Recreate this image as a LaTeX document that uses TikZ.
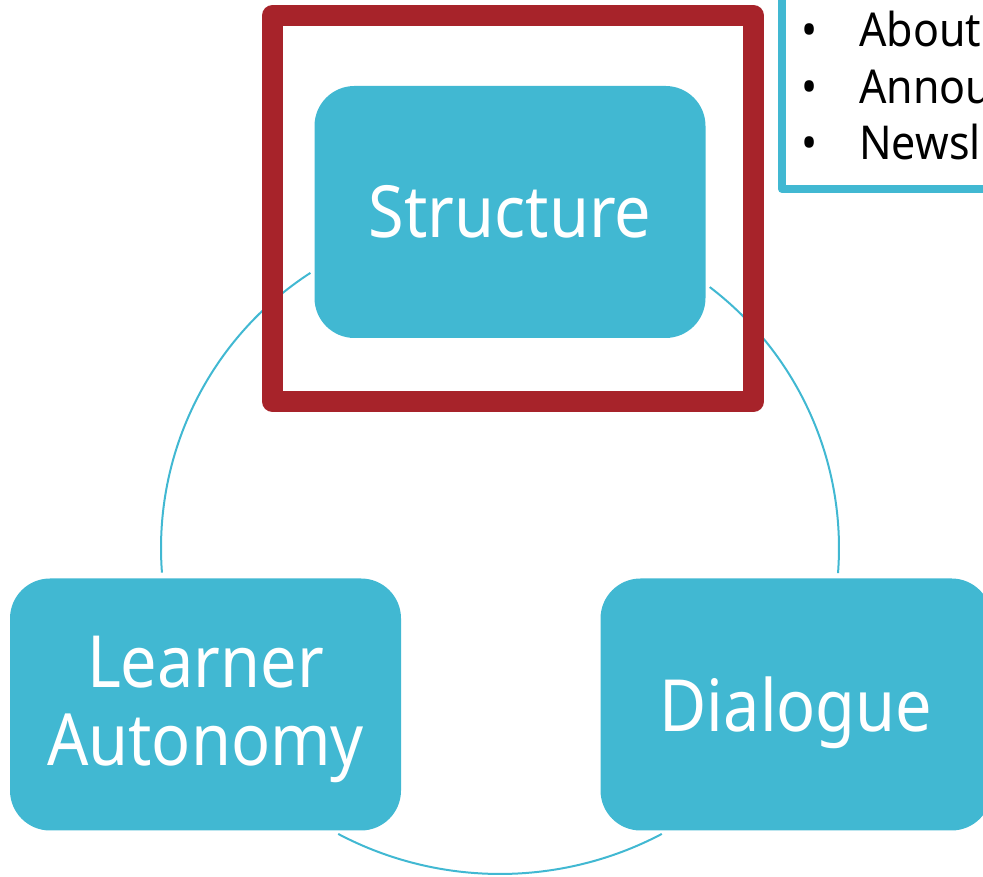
\documentclass[tikz,border=0pt]{standalone}
\usepackage{fontspec}
\setmainfont{Noto Sans}
\newfontfamily\boxfont[FakeStretch = 0.9]{Noto Sans}
\newfontfamily\notefont[FakeStretch = 0.92]{Noto Sans}
\usetikzlibrary{positioning}
\definecolor{cyclecyan}{RGB}{65, 184, 210}
\definecolor{framered}{RGB}{167, 35, 42}

\begin{document}
\begin{tikzpicture}[x = 0.75pt, y = 0.75pt,
	cyclebox/.style = {fill = cyclecyan, rounded corners = 30pt, minimum width = 293.25pt, minimum height = 189pt, inner sep = 0pt, text = white, align = center, font = \boxfont\fontsize{54}{58.5}\selectfont},
	cyclearc/.style = {draw = cyclecyan, line width = 1.5pt}]
	\useasboundingbox (0, 0) rectangle (983, 877);
	\clip (0, 0) rectangle (983, 877);
	\coordinate (leftc) at (489, 329);
	\coordinate (rightc) at (511, 329);
	\coordinate (lowc) at (500, 350);
	\draw[cyclearc] ([shift = {(123:328)}]leftc) arc [start angle = 123, end angle = 184.3, radius = 328];
	\draw[cyclearc] ([shift = {(52.7:328)}]rightc) arc [start angle = 52.7, end angle = -4.4, radius = 328];
	\draw[cyclearc] ([shift = {(242.2:347)}]lowc) arc [start angle = 242.2, end angle = 297.8, radius = 347];
	\node[cyclebox] (struct) at (510, 665) {Structure};
	\node[cyclebox] (learner) at (205.5, 172.5) {\rule{0pt}{46pt}Learner\\Autonomy};
	\node[cyclebox, text depth = 0pt, right = 149.25pt of learner] (dialogue) {Dialogue};
	\draw[framered, line width = 15.75pt, line join = round] (272.5, 475.5) rectangle (753.5, 861.5);
	\draw[cyclecyan, line width = 6pt, line join = round, fill = white] (782, 688) rectangle (1010, 900);
	\node[anchor = base west, inner sep = 0pt, font = \notefont\fontsize{35}{42.4}\selectfont] (notes) at (801, 830.3) {\begin{tabular}[t]{@{}l@{}}
		\makebox[43.5pt][l]{•}About\\
		\makebox[43.5pt][l]{•}Annou\\
		\makebox[43.5pt][l]{•}Newsl
	\end{tabular}};
\end{tikzpicture}
\end{document}
